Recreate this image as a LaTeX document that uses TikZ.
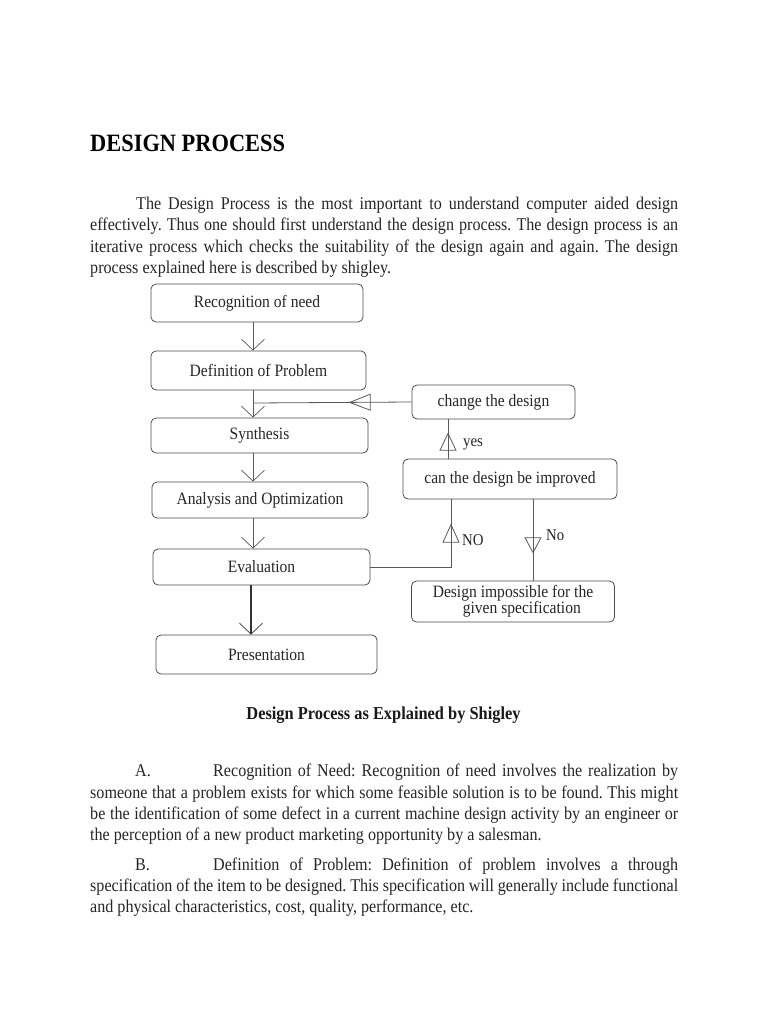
\documentclass[tikz,border=0pt]{standalone}
\usepackage{fontspec}
\setmainfont{Liberation Serif}[FakeStretch=0.9]
\usetikzlibrary{arrows.meta,decorations.markings}
\tikzset{
  txt/.style={anchor=base west,inner sep=0pt,text=black!85,font=\fontsize{17.9}{20}\selectfont},
  box/.style={draw=black!70,line width=0.8pt,rounded corners=5pt,inner sep=0pt,
    text=black!85,font=\fontsize{17.3}{16}\selectfont},
  conn/.style={draw=black!65,line width=0.8pt},
  vtip/.style={-{Straight Barb[length=11pt,width=23pt,line width=0.7pt]}},
  midtri/.style 2 args={postaction={decorate},decoration={markings,
    mark=at position #1 with {\arrow{Triangle[open,length=#2,width=17pt,line width=0.8pt]}}}},
}
\newcommand{\jl}[2]{\makebox[#1][s]{#2}}
\begin{document}
\frenchspacing
\begin{tikzpicture}[x=1pt,y=-1pt]
\fill[white] (0,0) rectangle (768,1024);
\useasboundingbox (0,0) rectangle (768,1024);
% title
\node[txt,font=\fontsize{24.9}{28}\selectfont\bfseries,text=black] (title) at (90,152) {DESIGN PROCESS};
% intro paragraph
\node[txt] (i1) at (136,210) {\jl{542pt}{The Design Process is the most important to understand computer aided design}};
\node[txt] (i2) at (90,231) {\jl{588pt}{effectively. Thus one should first understand the design process. The design process is an}};
\node[txt] (i3) at (90,252) {\jl{588pt}{iterative process which checks the suitability of the design again and again. The design}};
\node[txt] (i4) at (90,273) {process explained here is described by shigley.};
% diagram boxes
\node[box,minimum width=212pt,minimum height=38pt] (rec) at (257,303) {Recognition of need};
\node[box,minimum width=215pt,minimum height=39pt] (def) at (258.5,370.5) {Definition of Problem};
\node[box,minimum width=217pt,minimum height=35pt] (syn) at (259.5,435.5) {Synthesis};
\node[box,minimum width=216pt,minimum height=36pt] (ana) at (260,500) {Analysis and Optimization};
\node[box,minimum width=217pt,minimum height=36pt] (eva) at (261.5,567) {Evaluation};
\node[box,minimum width=221pt,minimum height=39pt] (pre) at (266.5,654.5) {Presentation};
\node[box,minimum width=163pt,minimum height=34pt] (chg) at (493.5,402) {change the design};
\node[box,minimum width=214pt,minimum height=40pt] (can) at (510,479) {can the design be improved};
\node[box,minimum width=203pt,minimum height=41pt,align=left] (imp) at (513,601.5) {Design impossible for the\\\hspace{30pt}given specification};
% helper coordinates
\coordinate (mx) at (253,0);
\coordinate (px) at (251,0);
\coordinate (yx) at (448,0);
\coordinate (nox) at (451,0);
\coordinate (nnx) at (533,0);
\coordinate (fb) at (253,403);
% main column connectors
\draw[conn,vtip] (rec.south -| mx) -- (def.north -| mx);
\draw[conn,vtip] (def.south -| mx) -- (syn.north -| mx);
\draw[conn,vtip] (syn.south -| mx) -- (ana.north -| mx);
\draw[conn,vtip] (ana.south -| mx) -- (eva.north -| mx);
\draw[conn,line width=1.3pt,draw=black!80,-{Straight Barb[length=11pt,width=23pt,line width=0.7pt]}] (eva.south -| px) -- (pre.north -| px);
% feedback connectors
\draw[conn,midtri={63pt}{22pt}] (chg.west) -- (fb);
\draw[conn,midtri={26pt}{18pt}] (can.north -| yx) -- (chg.south -| yx);
\draw[conn,midtri={124pt}{19pt}] (eva.east) -- (eva.east -| nox) -- (can.south -| nox);
\draw[conn,midtri={54pt}{16pt}] (can.south -| nnx) -- (imp.north -| nnx);
% labels
\node[txt,font=\fontsize{16.5}{18}\selectfont] (lyes) at (463,446) {yes};
\node[txt,font=\fontsize{16.5}{18}\selectfont] (lno1) at (462,545) {NO};
\node[txt,font=\fontsize{16.5}{18}\selectfont] (lno2) at (546,540) {No};
% caption
\node[txt,font=\fontsize{18.2}{20}\selectfont\bfseries,anchor=base,text=black!90] (cap) at (383.5,719) {Design Process as Explained by Shigley};
% paragraph A
\node[txt] (a0) at (135,776) {A.};
\node[txt] (a1) at (213,776) {\jl{465pt}{Recognition of Need: Recognition of need involves the realization by}};
\node[txt] (a2) at (90,798) {\jl{588pt}{someone that a problem exists for which some feasible solution is to be found. This might}};
\node[txt] (a3) at (90,819) {\jl{588pt}{be the identification of some defect in a current machine design activity by an engineer or}};
\node[txt] (a4) at (90,840) {the perception of a new product marketing opportunity by a salesman.};
% paragraph B
\node[txt] (b0) at (135,870) {B.};
\node[txt] (b1) at (213,870) {\jl{465pt}{Definition of Problem: Definition of problem involves a through}};
\node[txt] (b2) at (90,891) {\jl{588pt}{specification of the item to be designed. This specification will generally include functional}};
\node[txt] (b3) at (90,912) {and physical characteristics, cost, quality, performance, etc.};
\end{tikzpicture}
\end{document}
